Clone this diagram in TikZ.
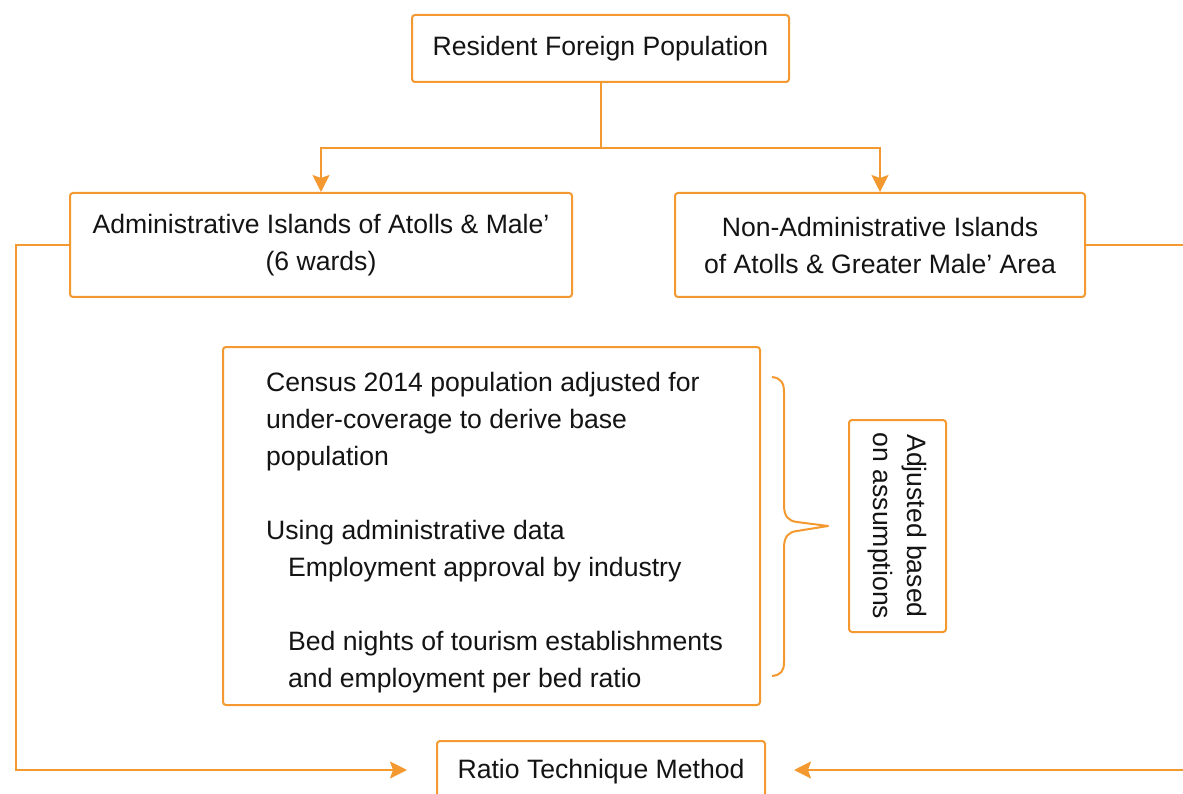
\documentclass[tikz,border=0pt]{standalone}
\usepackage{fontspec}
\setmainfont{Liberation Sans}
\usetikzlibrary{arrows.meta}
\definecolor{org}{RGB}{244,152,48}
\definecolor{txt}{RGB}{20,20,20}
\begin{document}
\begin{tikzpicture}[x=1pt,y=1pt,
  box/.style={draw=org, line width=2pt, rounded corners=3pt, fill=white, text=txt,
    font=\fontsize{26.6}{37}\selectfont, align=center, inner sep=0pt},
  wire/.style={draw=org, line width=2pt},
  wirearrow/.style={wire, -{Stealth[length=17pt,width=17pt,inset=3pt]}}]
\useasboundingbox (0,0) rectangle (1183,-794);
\clip (0,0) rectangle (1183,-794);

\node[box, minimum width=377, minimum height=67] (top) at (600.5,-48.5) {Resident Foreign Population};
\node[box, minimum width=502, minimum height=104] (adm) at (321,-245) {Administrative Islands of Atolls \& Male’\\(6 wards)};
\node[box, minimum width=410, minimum height=104] (nonadm) at (880,-245) {Non-Administrative Islands\\of Atolls \& Greater Male’ Area};
\node[box, minimum width=537, minimum height=358] (mid) at (491.5,-526) {};
\node[anchor=north west, align=left, inner sep=0pt, text=txt, font=\fontsize{26.6}{37}\selectfont] (midtext) at (266,-372)
  {Census 2014 population adjusted for\\
   under-coverage to derive base\\
   population\\[37pt]
   Using administrative data\\
   \hspace*{22pt}Employment approval by industry\\[37pt]
   \hspace*{22pt}Bed nights of tourism establishments\\
   \hspace*{22pt}and employment per bed ratio};
\node[box, rotate=-90, minimum width=212, minimum height=97, font=\fontsize{26.6}{34}\selectfont] (assume) at (897.5,-526) {Adjusted based\\on assumptions};
\node[box, minimum width=328, minimum height=58, text depth=2pt] (ratio) at (601,-770) {Ratio Technique Method};

% brace
\draw[wire, line join=round] (772,-377) .. controls (781,-378) and (784,-383) .. (784,-392)
  -- (784,-505) .. controls (784,-516) and (788,-521) .. (797,-522)
  -- (828,-526)
  -- (797,-531) .. controls (788,-532) and (784,-537) .. (784,-548)
  -- (784,-662) .. controls (784,-671) and (781,-675) .. (772,-676);

% connectors
\coordinate (split) at (600.5,-148);
\draw[wire] (top.south) -- (split);
\draw[wirearrow] (split) -| (adm.north);
\draw[wirearrow] (split) -| (nonadm.north);

\coordinate (lbend) at (16,-245);
\draw[wirearrow, shorten >=29pt] (adm.west) -- (lbend) |- (ratio.west);

\coordinate (rout) at (1192,-245);
\coordinate (rin) at (1192,-770);
\draw[wire] (nonadm.east) -- (rout);
\draw[wirearrow, shorten >=28pt] (rin) -- (ratio.east);
\end{tikzpicture}
\end{document}
